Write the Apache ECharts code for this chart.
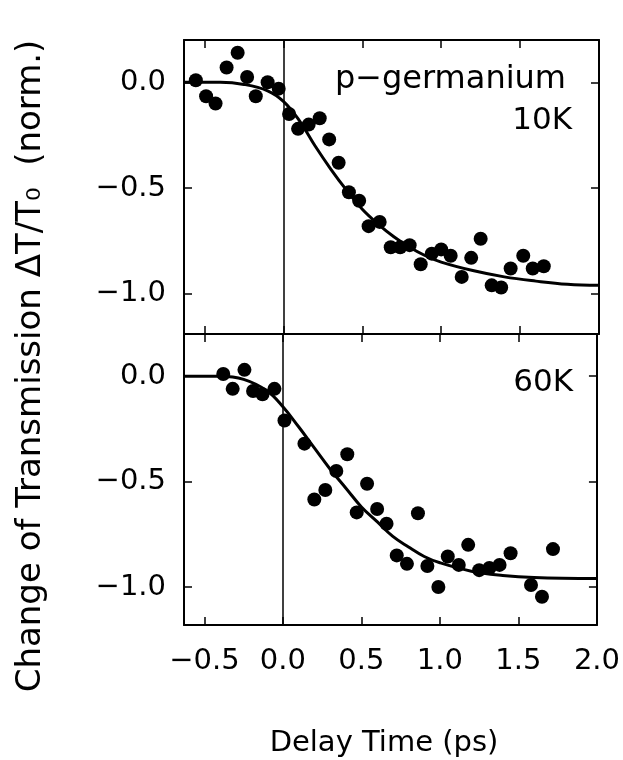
<!DOCTYPE html>
<html>
<head>
<meta charset="utf-8">
<script src="https://cdn.jsdelivr.net/npm/echarts@6/dist/echarts.min.js"></script>
<style>
  html, body { margin: 0; padding: 0; background: #fff; }
  #chart { width: 623px; height: 760px; }
</style>
</head>
<body>
<div id="chart"></div>
<script>
// delay time (ps) / normalized transmission change
const time10K = [-0.555, -0.49, -0.43, -0.36, -0.29, -0.23, -0.175, -0.10, -0.03, 0.036, 0.093, 0.16, 0.23, 0.29, 0.35, 0.415, 0.48, 0.54, 0.61, 0.68, 0.74, 0.80, 0.87, 0.94, 1.0, 1.06, 1.13, 1.19, 1.25, 1.32, 1.38, 1.44, 1.52, 1.58, 1.65]
const trans10K = [0.01, -0.066, -0.10, 0.07, 0.14, 0.025, -0.066, 0.0, -0.03, -0.15, -0.22, -0.20, -0.17, -0.27, -0.38, -0.52, -0.56, -0.68, -0.66, -0.78, -0.78, -0.77, -0.86, -0.81, -0.79, -0.82, -0.92, -0.83, -0.74, -0.96, -0.97, -0.88, -0.82, -0.88, -0.87]
const fitTime10K = [-0.63, -0.4, -0.25, -0.1, 0.0, 0.1, 0.2, 0.3, 0.4, 0.5, 0.6, 0.7, 0.8, 0.9, 1.0, 1.2, 1.4, 1.6, 1.8, 2.0]
const fit10K = [0.0, 0.0, -0.01, -0.04, -0.09, -0.18, -0.30, -0.41, -0.51, -0.60, -0.67, -0.73, -0.78, -0.82, -0.85, -0.89, -0.92, -0.94, -0.955, -0.96]

const time60K = [-0.38, -0.32, -0.245, -0.19, -0.13, -0.054, 0.01, 0.137, 0.20, 0.27, 0.34, 0.41, 0.47, 0.536, 0.60, 0.66, 0.725, 0.79, 0.86, 0.92, 0.99, 1.05, 1.12, 1.18, 1.25, 1.315, 1.38, 1.45, 1.58, 1.65, 1.72]
const trans60K = [0.01, -0.06, 0.03, -0.07, -0.086, -0.06, -0.21, -0.32, -0.585, -0.54, -0.45, -0.37, -0.646, -0.51, -0.63, -0.70, -0.85, -0.89, -0.65, -0.90, -1.0, -0.855, -0.895, -0.80, -0.92, -0.91, -0.895, -0.84, -0.99, -1.046, -0.82]
const fitTime60K = [-0.63, -0.4, -0.25, -0.1, 0.0, 0.1, 0.2, 0.3, 0.4, 0.5, 0.6, 0.7, 0.8, 0.9, 1.0, 1.2, 1.4, 1.6, 2.0]
const fit60K = [0.0, 0.0, -0.015, -0.07, -0.145, -0.24, -0.34, -0.44, -0.53, -0.62, -0.69, -0.76, -0.81, -0.855, -0.885, -0.925, -0.945, -0.955, -0.96]

const xTicks = [-0.5, 0.0, 0.5, 1.0, 1.5, 2.0]
const yTicks = [-1.0, -0.5, 0.0]

const font = 'DejaVu Sans'
const fmt = v => v.toFixed(1).replace('-', '\u2212')
const pairs = (xs, ys) => xs.map((x, i) => [x, ys[i]])

function xAxis(grid, position, showLabel) {
  return {
    type: 'value',
    gridIndex: grid,
    position: position,
    min: -0.63,
    max: 2.0,
    axisLine: { onZero: false, lineStyle: { color: '#000', width: 2 } },
    axisTick: { inside: true, length: 8, customValues: xTicks, lineStyle: { color: '#000', width: 1.5 } },
    axisLabel: { show: showLabel, customValues: xTicks, formatter: fmt, color: '#000', fontFamily: font, fontSize: 29, margin: 22 },
    splitLine: { show: false }
  }
}

function yAxis(grid, position, showLabel, min) {
  return {
    type: 'value',
    gridIndex: grid,
    position: position,
    min: min,
    max: 0.2,
    axisLine: { onZero: false, lineStyle: { color: '#000', width: 2 } },
    axisTick: { inside: true, length: 8, customValues: yTicks, lineStyle: { color: '#000', width: 1.5 } },
    axisLabel: { show: showLabel, customValues: yTicks, formatter: fmt, color: '#000', fontFamily: font, fontSize: 29, margin: 18 },
    splitLine: { show: false }
  }
}

const zeroLine = {
  silent: true,
  symbol: 'none',
  label: { show: false },
  lineStyle: { color: '#000', width: 1.5, type: 'solid' },
  data: [{ xAxis: 0 }]
}

const chart = echarts.init(document.getElementById('chart'))
chart.setOption({
  animation: false,
  backgroundColor: '#fff',
  grid: [
    { left: 184, top: 40, width: 415, height: 294 },
    { left: 184, top: 334, width: 415, height: 291 }
  ],
  xAxis: [
    xAxis(0, 'bottom', false),
    xAxis(0, 'top', false),
    xAxis(1, 'bottom', true),
    xAxis(1, 'top', false)
  ],
  yAxis: [
    yAxis(0, 'left', true, -1.19),
    yAxis(0, 'right', false, -1.19),
    yAxis(1, 'left', true, -1.18),
    yAxis(1, 'right', false, -1.18)
  ],
  graphic: [
    {
      type: 'text', x: 31, y: 366, rotation: Math.PI / 2,
      style: { text: 'Change of Transmission \u0394T/T\u2080  (norm.)', fontFamily: font, fontSize: 34, fill: '#000', align: 'center', verticalAlign: 'middle' }
    },
    {
      type: 'text', x: 384, y: 743,
      style: { text: 'Delay Time (ps)', fontFamily: font, fontSize: 29, fill: '#000', align: 'center', verticalAlign: 'middle' }
    },
    {
      type: 'text', x: 566, y: 80,
      style: { text: 'p\u2212germanium', fontFamily: font, fontSize: 32, fill: '#000', align: 'right', verticalAlign: 'middle' }
    },
    {
      type: 'text', x: 572, y: 121,
      style: { text: '10K', fontFamily: font, fontSize: 31, fill: '#000', align: 'right', verticalAlign: 'middle' }
    },
    {
      type: 'text', x: 573, y: 383,
      style: { text: '60K', fontFamily: font, fontSize: 31, fill: '#000', align: 'right', verticalAlign: 'middle' }
    }
  ],
  series: [
    {
      name: '10K fit',
      type: 'line',
      xAxisIndex: 0,
      yAxisIndex: 0,
      data: pairs(fitTime10K, fit10K),
      smooth: 0.4,
      showSymbol: false,
      lineStyle: { color: '#000', width: 3 },
      markLine: zeroLine
    },
    {
      name: '10K',
      type: 'scatter',
      xAxisIndex: 0,
      yAxisIndex: 0,
      data: pairs(time10K, trans10K),
      symbolSize: 14,
      itemStyle: { color: '#000', opacity: 1 }
    },
    {
      name: '60K fit',
      type: 'line',
      xAxisIndex: 2,
      yAxisIndex: 2,
      data: pairs(fitTime60K, fit60K),
      smooth: 0.4,
      showSymbol: false,
      lineStyle: { color: '#000', width: 3 },
      markLine: zeroLine
    },
    {
      name: '60K',
      type: 'scatter',
      xAxisIndex: 2,
      yAxisIndex: 2,
      data: pairs(time60K, trans60K),
      symbolSize: 14,
      itemStyle: { color: '#000', opacity: 1 }
    }
  ]
})
</script>
</body>
</html>
